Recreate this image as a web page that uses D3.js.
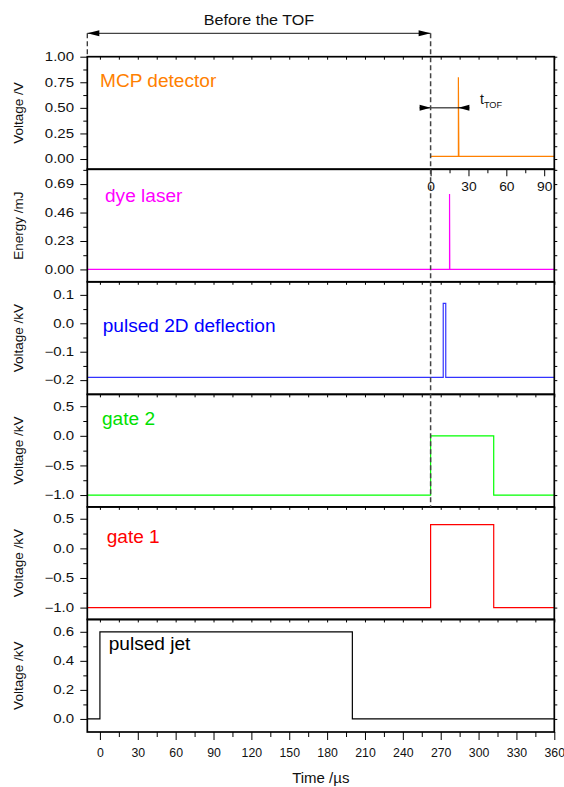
<!DOCTYPE html>
<html lang="en">
<head>
<meta charset="UTF-8">
<title>Timing scheme</title>
<script src="https://d3js.org/d3.v7.min.js"></script>
<style>
  body { margin: 0; background: #fff; }
  svg { display: block; font-family: "Liberation Sans", Arial, sans-serif; }
  .frame { fill: none; stroke: #000; stroke-width: 1.7px; }
  .tick line { stroke: #000; }
  .trace { fill: none; stroke-width: 1.2px; }
</style>
</head>
<body>
<div id="container"></div>
<script>
// ---- data ----
const xTicks = [0, 30, 60, 90, 120, 150, 180, 210, 240, 270, 300, 330, 360];
const insetTicks = [0, 30, 60, 90];
const tofStart = 262;   // dashed line / inset zero

const mcpT = [262, 284, 284, 284.4, 360];
const mcpV = [0.025, 0.025, 0.8, 0.025, 0.025];
const dyeT = [-10, 277, 277, 277.2, 360];
const dyeV = [0, 0, 0.61, 0, 0];
const deflT = [-10, 272, 272, 274, 274, 360];
const deflV = [-0.19, -0.19, 0.07, 0.07, -0.19, -0.19];
const gate2T = [-10, 262, 262, 312, 312, 360];
const gate2V = [-1, -1, 0, 0, -1, -1];
const gate1T = [-10, 262, 262, 312, 312, 360];
const gate1V = [-1, -1, 0.4, 0.4, -1, -1];
const jetT = [-10, 0, 0, 200, 200, 360];
const jetV = [0, 0, 0.6, 0.6, 0, 0];

const panelNames = ["MCP detector", "dye laser", "pulsed 2D deflection", "gate 2", "gate 1", "pulsed jet"];
const panelColors = ["#ff8000", "#ff00ff", "#0000ff", "#00e000", "#ff0000", "#000000"];
const lineColors = ["#ff8000", "#ff00ff", "#3333ff", "#00ff00", "#ff0000", "#000000"];
const yTitles = ["Voltage /V", "Energy /mJ", "Voltage /kV", "Voltage /kV", "Voltage /kV", "Voltage /kV"];
const yDomains = [[-0.1, 1.0], [-0.1, 0.81], [-0.25, 0.146], [-1.2, 0.7], [-1.2, 0.7], [-0.09, 0.685]];
const yMajor = [
  [0, 0.25, 0.5, 0.75, 1.0],
  [0, 0.23, 0.46, 0.69],
  [-0.2, -0.1, 0, 0.1],
  [-1, -0.5, 0, 0.5],
  [-1, -0.5, 0, 0.5],
  [0, 0.2, 0.4, 0.6]
];
const yFormats = [".2f", ".2f", ".1f", ".1f", ".1f", ".1f"];
const series = [[mcpT, mcpV], [dyeT, dyeV], [deflT, deflV], [gate2T, gate2V], [gate1T, gate1V], [jetT, jetV]];

// ---- layout ----
const width = 564, height = 787;
const plotL = 87.3, plotR = 554.3, plotT = 56.7, plotB = 732;
const panelH = (plotB - plotT) / 6;

const svg = d3.select("#container").append("svg")
  .attr("width", width).attr("height", height);

const x = d3.scaleLinear().domain([-10, 360]).range([plotL, plotR]);

// minor ticks halfway between majors
function halves(ticks, domain) {
  const step = ticks[1] - ticks[0];
  const out = [];
  for (let i = -1; i < ticks.length; i++) {
    const v = ticks[0] + step * (i + 0.5);
    if (v > domain[0] && v < domain[1]) out.push(v);
  }
  return out;
}

// the original's lettering is a bit wider than Arial, widen glyphs a little
function stretch(sel, f) {
  sel.each(function() {
    const len = this.getComputedTextLength();
    d3.select(this).attr("textLength", len * f).attr("lengthAdjust", "spacingAndGlyphs");
  });
}

const defs = svg.append("defs");

panelNames.forEach((name, i) => {
  const y0 = plotT + i * panelH;
  const y = d3.scaleLinear().domain(yDomains[i]).range([y0 + panelH, y0]);
  const g = svg.append("g");

  defs.append("clipPath").attr("id", "clip" + i)
    .append("rect").attr("x", plotL).attr("y", y0).attr("width", plotR - plotL).attr("height", panelH);

  // left axis
  g.append("g").attr("transform", `translate(${plotL},0)`)
    .call(d3.axisLeft(y).tickValues(yMajor[i]).tickFormat(d3.format(yFormats[i])).tickSize(7).tickPadding(6.3))
    .call(a => a.select(".domain").remove())
    .call(a => a.selectAll("text").attr("font-size", 12).attr("fill", "#111").attr("font-family", null))
    .call(a => stretch(a.selectAll("text"), 1.25));
  g.append("g").attr("transform", `translate(${plotL},0)`)
    .call(d3.axisLeft(y).tickValues(halves(yMajor[i], yDomains[i])).tickFormat("").tickSize(4))
    .call(a => a.select(".domain").remove());

  // right axis, short outward ticks
  g.append("g").attr("transform", `translate(${plotR},0)`)
    .call(d3.axisRight(y).tickValues(yMajor[i].concat(halves(yMajor[i], yDomains[i]))).tickFormat("").tickSize(3))
    .call(a => a.select(".domain").remove());

  // small ticks along the top edge, pointing down
  if (i !== 1) {
    g.append("g").attr("transform", `translate(0,${y0})`)
      .call(d3.axisBottom(x).tickValues(d3.range(0, 361, 15)).tickFormat("").tickSize(3))
      .call(a => a.select(".domain").remove());
  }

  // trace
  const [ts, vs] = series[i];
  const pts = ts.map((t, k) => [t, vs[k]]);
  g.append("path")
    .attr("class", "trace")
    .attr("clip-path", `url(#clip${i})`)
    .attr("stroke", lineColors[i])
    .attr("d", d3.line().x(d => x(d[0])).y(d => y(d[1]))(pts));

  // frame
  g.append("rect").attr("class", "frame")
    .attr("x", plotL).attr("y", y0).attr("width", plotR - plotL).attr("height", panelH);

  // panel label
  const labelPos = [[100, 86.7], [105, 202], [102.7, 331.7], [102, 425], [106.7, 542.7], [108.7, 650]];
  g.append("text")
    .attr("x", labelPos[i][0]).attr("y", labelPos[i][1])
    .attr("font-size", 17.5).attr("fill", panelColors[i])
    .text(name)
    .call(s => stretch(s, 1.09));

  // y title
  g.append("text")
    .attr("transform", `translate(23,${y0 + panelH / 2}) rotate(-90)`)
    .attr("text-anchor", "middle").attr("font-size", 13.5).attr("fill", "#111")
    .text(yTitles[i]);

  // MCP: tTOF marker
  if (i === 0) {
    const ay = y(0.5);
    const t0 = x(tofStart), t1 = x(284);
    g.append("line").attr("x1", t0 - 11).attr("x2", t1 + 11).attr("y1", ay).attr("y2", ay)
      .attr("stroke", "#000").attr("stroke-width", 1);
    g.append("path").attr("d", `M${t0 - 11},${ay - 3}L${t0},${ay}L${t0 - 11},${ay + 3}Z`).attr("fill", "#000");
    g.append("path").attr("d", `M${t1 + 11},${ay - 3}L${t1},${ay}L${t1 + 11},${ay + 3}Z`).attr("fill", "#000");
    const tt = g.append("text").attr("x", 480).attr("y", 103.5).attr("font-size", 14).attr("fill", "#111");
    tt.append("tspan").text("t");
    tt.append("tspan").attr("dy", 4.5).attr("font-size", 9.2).text("TOF");
  }

  // dye laser panel top carries the inset time axis (zero at the dashed line)
  if (i === 1) {
    const xi = d3.scaleLinear().domain([0, 360 - tofStart]).range([x(tofStart), plotR]);
    g.append("g").attr("transform", `translate(0,${y0})`)
      .call(d3.axisBottom(xi).tickValues(insetTicks).tickSize(7).tickPadding(6))
      .call(a => a.select(".domain").remove())
      .call(a => a.selectAll("text").attr("font-size", 12).attr("fill", "#111").attr("font-family", null))
      .call(a => stretch(a.selectAll("text"), 1.15));
    g.append("g").attr("transform", `translate(0,${y0})`)
      .call(d3.axisBottom(xi).tickValues([15, 45, 75]).tickFormat("").tickSize(4))
      .call(a => a.select(".domain").remove());
  }
});

// bottom time axis
svg.append("g").attr("transform", `translate(0,${plotB})`)
  .call(d3.axisBottom(x).tickValues(xTicks).tickSize(8).tickPadding(8))
  .call(a => a.select(".domain").remove())
  .call(a => a.selectAll("text").attr("font-size", 12.3).attr("fill", "#111").attr("font-family", null));
svg.append("g").attr("transform", `translate(0,${plotB})`)
  .call(d3.axisBottom(x).tickValues(d3.range(15, 360, 30)).tickFormat("").tickSize(5))
  .call(a => a.select(".domain").remove());

svg.append("text")
  .attr("x", (plotL + plotR) / 2).attr("y", 783)
  .attr("text-anchor", "middle").attr("font-size", 15).attr("fill", "#111")
  .text("Time /\u00b5s");

// "Before the TOF" bracket
const by = 33.3;
svg.append("line").attr("x1", plotL).attr("x2", x(tofStart)).attr("y1", by).attr("y2", by)
  .attr("stroke", "#444").attr("stroke-width", 1.2);
svg.append("path").attr("d", `M${plotL},${by}L${plotL + 12},${by - 3}L${plotL + 12},${by + 3}Z`).attr("fill", "#000");
svg.append("path").attr("d", `M${x(tofStart)},${by}L${x(tofStart) - 12},${by - 3}L${x(tofStart) - 12},${by + 3}Z`).attr("fill", "#000");
svg.append("text")
  .attr("x", (plotL + x(tofStart)) / 2).attr("y", 25)
  .attr("text-anchor", "middle").attr("font-size", 14).attr("fill", "#111")
  .text("Before the TOF")
  .call(s => stretch(s, 1.15));

// dashed guides
svg.append("line").attr("x1", plotL).attr("x2", plotL).attr("y1", by).attr("y2", plotT)
  .attr("stroke", "#333").attr("stroke-width", 1.3).attr("stroke-dasharray", "5,3");
svg.append("line").attr("x1", x(tofStart)).attr("x2", x(tofStart)).attr("y1", by).attr("y2", plotT + 4 * panelH)
  .attr("stroke", "#444").attr("stroke-width", 1.5).attr("stroke-dasharray", "5,3");
</script>
</body>
</html>
